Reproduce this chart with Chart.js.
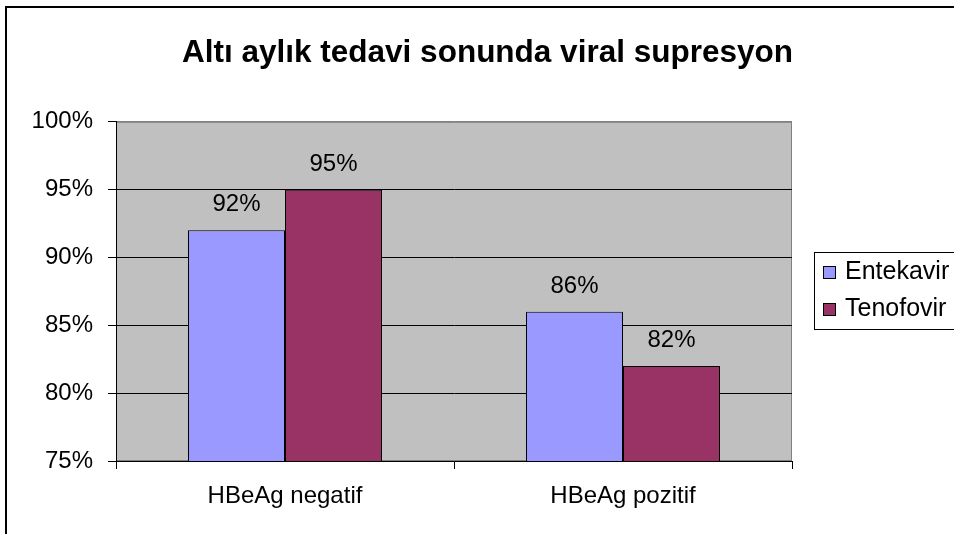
<!DOCTYPE html>
<html>
<head>
<meta charset="utf-8">
<script src="https://cdn.jsdelivr.net/npm/chart.js@4"></script>
<style>
  html, body { margin: 0; padding: 0; background: #fff; overflow: hidden; }
  #wrap { width: 975px; height: 545px; }
</style>
</head>
<body>
<div id="wrap"><canvas id="chart" width="975" height="545"></canvas></div>
<script>
const categories = ["HBeAg negatif", "HBeAg pozitif"];
const seriesNames = ["Entekavir", "Tenofovir"];
const entekavir = [92, 86];
const tenofovir = [95, 82];
const yTicks = { min: 75, max: 100, step: 5 };
const colors = ["#9999FF", "#993366"];

const font = "'Liberation Sans', Arial, sans-serif";

// gray plot area with a darker frame, like the old Excel charts
const plotBg = {
  id: "plotBg",
  beforeDraw(chart) {
    const { ctx, chartArea: a } = chart;
    ctx.save();
    ctx.fillStyle = "#C0C0C0";
    ctx.fillRect(a.left, a.top, a.right - a.left, a.bottom - a.top);
    ctx.strokeStyle = "#808080";
    ctx.lineWidth = 1;
    ctx.strokeRect(a.left + 0.5, a.top + 0.5, a.right - a.left - 1, a.bottom - a.top - 1);
    // outer chart border (right and bottom run off the page)
    ctx.strokeStyle = "#000";
    ctx.lineWidth = 2;
    ctx.strokeRect(6, 7, chart.width + 20, chart.height + 20);
    ctx.restore();
  }
};

const valueLabels = {
  id: "valueLabels",
  afterDatasetsDraw(chart) {
    const { ctx } = chart;
    ctx.save();
    ctx.font = "24px " + font;
    ctx.fillStyle = "#000";
    ctx.textAlign = "center";
    ctx.textBaseline = "alphabetic";
    chart.data.datasets.forEach((ds, i) => {
      chart.getDatasetMeta(i).data.forEach((bar, j) => {
        ctx.fillText(ds.data[j] + "%", bar.x, bar.y - 19);
      });
    });
    ctx.restore();
  }
};

const boxLegend = {
  id: "boxLegend",
  afterDraw(chart) {
    const { ctx } = chart;
    const x = 814, y = 252, h = 77;
    ctx.save();
    ctx.fillStyle = "#fff";
    ctx.fillRect(x, y, 200, h);
    ctx.strokeStyle = "#000";
    ctx.lineWidth = 1;
    ctx.strokeRect(x + 0.5, y + 0.5, 200, h);
    ctx.font = "25px " + font;
    ctx.textBaseline = "middle";
    chart.data.datasets.forEach((ds, i) => {
      const cy = 272 + i * 37;
      ctx.fillStyle = ds.backgroundColor;
      ctx.fillRect(823, cy - 6, 13, 13);
      ctx.strokeRect(823.5, cy - 5.5, 12, 12);
      ctx.fillStyle = "#000";
      ctx.fillText(ds.label, 845, cy);
    });
    ctx.restore();
  }
};

new Chart(document.getElementById("chart"), {
  type: "bar",
  data: {
    labels: categories,
    datasets: [
      { label: seriesNames[0], data: entekavir, backgroundColor: colors[0], borderColor: "#000", borderWidth: 1 },
      { label: seriesNames[1], data: tenofovir, backgroundColor: colors[1], borderColor: "#000", borderWidth: 1 }
    ]
  },
  options: {
    responsive: false,
    animation: false,
    layout: { padding: 0 },
    datasets: { bar: { categoryPercentage: 0.574, barPercentage: 1 } },
    plugins: {
      legend: { display: false },
      tooltip: { enabled: false },
      title: {
        display: true,
        text: "Altı aylık tedavi sonunda viral supresyon",
        color: "#000",
        font: { family: font, size: 31.5, weight: "bold", lineHeight: 1.2 },
        padding: { top: 34, bottom: 50 }
      }
    },
    scales: {
      x: {
        grid: { display: true, drawOnChartArea: false, drawTicks: true, tickLength: 8, color: "#000", offset: true },
        border: { display: true, color: "#000", width: 1 },
        ticks: { color: "#000", font: { family: font, size: 24 }, padding: 13, maxRotation: 0 },
        afterFit(scale) { scale.height = 84; }
      },
      y: {
        min: yTicks.min,
        max: yTicks.max,
        ticks: {
          stepSize: yTicks.step,
          color: "#000",
          font: { family: font, size: 24 },
          padding: 15,
          callback: v => v + "%"
        },
        grid: {
          color: ctx => (ctx.tick && ctx.tick.value === yTicks.max ? "#808080" : "#000"),
          tickColor: "#000",
          tickLength: 8,
          lineWidth: 1
        },
        border: { display: true, color: "#000", width: 1 },
        afterFit(scale) { scale.width = 116; }
      },
      // empty right-hand box that reserves the legend's room
      yRight: {
        position: "right",
        min: yTicks.min,
        max: yTicks.max,
        ticks: { display: false },
        grid: { display: false },
        border: { display: false },
        afterFit(scale) { scale.width = 183; }
      }
    }
  },
  plugins: [plotBg, valueLabels, boxLegend]
});
</script>
</body>
</html>
